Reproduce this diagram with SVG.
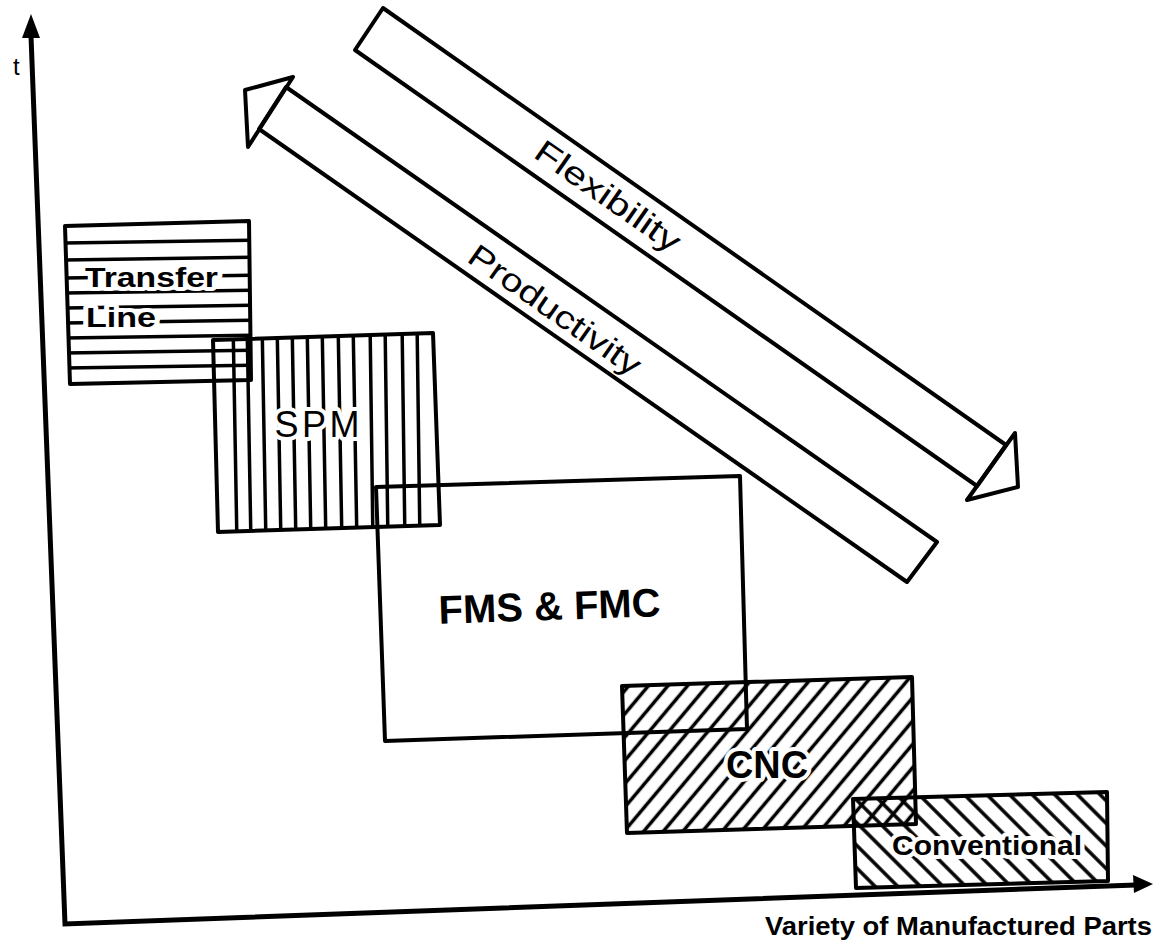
<svg xmlns="http://www.w3.org/2000/svg" width="1168" height="951" viewBox="0 0 1168 951">
<style>
.ln{stroke:#000;stroke-width:4;fill:none;stroke-linejoin:round;stroke-linecap:round}
.ax{stroke:#000;stroke-width:5;fill:none;stroke-linecap:round}
.h{stroke:#000;stroke-width:3.5;stroke-linecap:round}
text{font-family:"Liberation Sans",Arial,sans-serif;fill:#000}
.ko{stroke:#fff;stroke-width:8;paint-order:stroke;stroke-linejoin:round}
.b{font-weight:bold}
</style>
<defs>
<pattern id="hatchR" patternUnits="userSpaceOnUse" width="15" height="15" patternTransform="rotate(40)">
<line x1="7.5" y1="-2" x2="7.5" y2="17" stroke="#000" stroke-width="3.5"/>
</pattern>
<pattern id="hatchL" patternUnits="userSpaceOnUse" width="16" height="16" patternTransform="rotate(-45)">
<line x1="8" y1="-2" x2="8" y2="18" stroke="#000" stroke-width="3.5"/>
</pattern>
<clipPath id="cTL"><polygon points="65,226 249,221 251,380 70,384"/></clipPath>
<clipPath id="cSPM"><polygon points="213,340 433,333 440,525 218,532"/></clipPath>
</defs>
<rect width="1168" height="951" fill="#fff"/>

<g id="connectors">
<polyline class="ax" points="31,36 65,924 1136,885"/>
<polygon points="31,14 22,38 40,38" fill="#000"/>
<polygon points="1153,884 1133,875 1134,893" fill="#000"/>
</g>

<g id="transfer-line">
<g clip-path="url(#cTL)">
<line class="h" x1="60" y1="243" x2="260" y2="240"/>
<line class="h" x1="60" y1="260" x2="260" y2="257"/>
<line class="h" x1="60" y1="278" x2="260" y2="275"/>
<line class="h" x1="60" y1="293" x2="260" y2="290"/>
<line class="h" x1="60" y1="308" x2="260" y2="305"/>
<line class="h" x1="60" y1="323" x2="260" y2="320"/>
<line class="h" x1="60" y1="338" x2="260" y2="335"/>
<line class="h" x1="60" y1="353" x2="260" y2="350"/>
<line class="h" x1="60" y1="368" x2="260" y2="365"/>
</g>
<polygon class="ln" points="65,226 249,221 251,380 70,384"/>
<text class="ko b" x="85" y="287" font-size="27" textLength="133" lengthAdjust="spacingAndGlyphs">Transfer</text>
<text class="ko b" x="86" y="327" font-size="27" textLength="70" lengthAdjust="spacingAndGlyphs">Line</text>
</g>

<g id="spm">
<g clip-path="url(#cSPM)">
<line class="h" x1="233" y1="320" x2="237" y2="545"/>
<line class="h" x1="247" y1="320" x2="251" y2="545"/>
<line class="h" x1="262" y1="320" x2="266" y2="545"/>
<line class="h" x1="277" y1="320" x2="281" y2="545"/>
<line class="h" x1="292" y1="320" x2="296" y2="545"/>
<line class="h" x1="307" y1="320" x2="311" y2="545"/>
<line class="h" x1="322" y1="320" x2="326" y2="545"/>
<line class="h" x1="338" y1="320" x2="342" y2="545"/>
<line class="h" x1="353" y1="320" x2="357" y2="545"/>
<line class="h" x1="370" y1="320" x2="373" y2="545"/>
<line class="h" x1="385" y1="320" x2="388" y2="545"/>
<line class="h" x1="402" y1="320" x2="405" y2="545"/>
<line class="h" x1="417" y1="320" x2="420" y2="545"/>
</g>
<polygon class="ln" points="213,340 433,333 440,525 218,532"/>
<text class="ko" x="317" y="437" font-size="36" text-anchor="middle" textLength="85" lengthAdjust="spacing">SPM</text>
</g>

<g id="fms-fmc">
<polygon class="ln" points="376,487 740,476 747,729 385,741"/>
<text class="b" x="550" y="620" font-size="40" text-anchor="middle" transform="rotate(-2 550 620)" textLength="222" lengthAdjust="spacingAndGlyphs">FMS &amp; FMC</text>
</g>

<g id="cnc">
<polygon points="622,686 912,677 916,824 627,833" fill="url(#hatchR)"/>
<polygon class="ln" points="622,686 912,677 916,824 627,833"/>
<text class="ko b" x="767" y="778" font-size="38" text-anchor="middle" textLength="82" lengthAdjust="spacingAndGlyphs">CNC</text>
</g>

<g id="conventional">
<polygon points="853,799 1107,792 1108,881 856,888" fill="url(#hatchL)"/>
<polygon class="ln" points="853,799 1107,792 1108,881 856,888"/>
<text class="ko b" x="892" y="855" font-size="27" textLength="190" lengthAdjust="spacingAndGlyphs">Conventional</text>
</g>

<g id="flexibility">
<polygon class="ln" points="383,8 1006,445 977,486 355,50"/>
<polygon class="ln" points="1015,433 1018,487 967,500"/>
<text transform="translate(608,196) rotate(35)" x="0" y="11" font-size="32" text-anchor="middle" textLength="170" lengthAdjust="spacingAndGlyphs">Flexibility</text>
</g>

<g id="productivity">
<polygon class="ln" points="286,87 937,542 907,582 259,129"/>
<polygon class="ln" points="293,77 245,90 248,147"/>
<text transform="translate(555,310) rotate(35)" x="0" y="11" font-size="32" text-anchor="middle" textLength="203" lengthAdjust="spacingAndGlyphs">Productivity</text>
</g>

<g id="labels">
<text x="13" y="75" font-size="24">t</text>
<text class="b" x="765" y="935" font-size="26" textLength="387" lengthAdjust="spacingAndGlyphs">Variety of Manufactured Parts</text>
</g>
</svg>
